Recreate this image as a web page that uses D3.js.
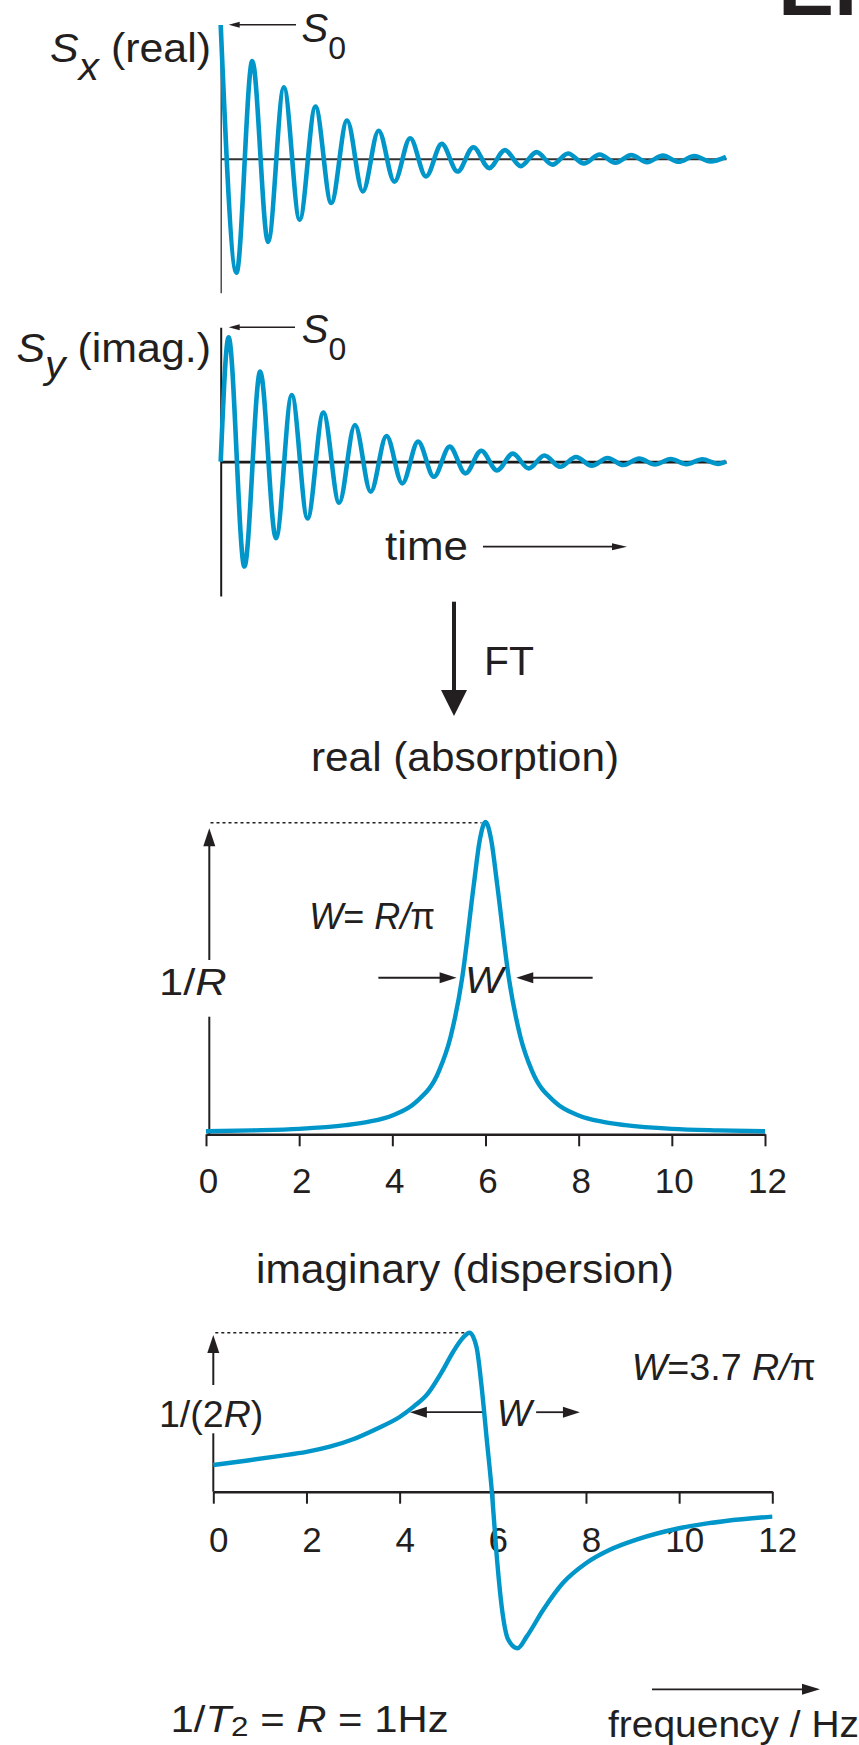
<!DOCTYPE html>
<html lang="en">
<head>
<meta charset="UTF-8">
<title>FID and spectrum</title>
<script src="https://cdn.jsdelivr.net/npm/d3@7/dist/d3.min.js"></script>
<style>
body{margin:0;background:#fff;}
svg{display:block;font-family:"Liberation Sans",Arial,Helvetica,sans-serif;}
</style>
</head>
<body>
<script>
// FID, time in periods of the signal, amplitude with S0 = 100
var sxTime = [0,0.5,1,1.5,2,2.5,3,3.5,4,4.5,5,5.5,6,6.5,7,7.5,8,8.5,9,9.5,10,10.5,11,11.5,12,12.5,13,13.5,14,14.5,15,15.5,16];
var sxVals = [100,-85,73,-62,53.5,-45.5,39,-33,28.6,-24.4,21,-17,15.4,-13.2,11.2,-9.5,8.7,-6.9,6.5,-5.4,5.0,-4.3,4.0,-3.5,3.3,-2.9,2.8,-2.5,2.4,-2.2,2.1,-2.0,1.5];
var syTime = [0,0.25,0.75,1.25,1.75,2.25,2.75,3.25,3.75,4.25,4.75,5.25,5.75,6.25,6.75,7.25,7.75,8.25,8.75,9.25,9.75,10.25,10.75,11.25,11.75,12.25,12.75,13.25,13.75,14.25,14.75,15.25,15.75,16];
var syVals = [0,92.5,-78,67,-57,49.6,-42.2,36.5,-30.5,27.3,-22.3,19.1,-16.1,14.9,-11.2,11.2,-8.7,8.2,-6.5,6.0,-5.0,4.6,-3.8,3.5,-3.0,2.8,-2.5,2.3,-2.1,2.0,-1.8,1.8,-1.6,0];

// spectra, frequency in Hz, peak height = 1
var absFreq = [0,1,2,3,3.5,4,4.5,5,5.25,5.5,5.75,5.875,6,6.125,6.25,6.5,6.75,7,7.5,8,8.5,9,10,11,12];
var absVals = [0.007,0.01,0.015,0.027,0.038,0.058,0.1,0.2,0.31,0.5,0.8,0.94,1,0.94,0.8,0.5,0.31,0.2,0.1,0.058,0.038,0.027,0.015,0.01,0.007];
var dispFreq = [0,0.7,1.4,2,2.5,3,3.5,4,4.3,4.6,4.9,5.15,5.35,5.5,5.65,5.76,5.87,5.98,6.08,6.19,6.33,6.53,6.73,7.08,7.5,8,8.5,9.1,10,11,12];
var dispVals = [0.168,0.195,0.224,0.25,0.283,0.33,0.395,0.47,0.535,0.615,0.75,0.88,0.965,1,0.91,0.66,0.33,0,-0.39,-0.72,-0.93,-0.985,-0.91,-0.744,-0.576,-0.45,-0.367,-0.3,-0.23,-0.184,-0.157];
var freqTicks = [0,2,4,6,8,10,12];

var width = 859, height = 1745;
var blue = "#0096c9", ink = "#231f20";
var svg = d3.select("body").append("svg").attr("width",width).attr("height",height);

// text with italic / subscript parts, stretched to the width seen in the figure
function label(parts, x, y, size, w, anchor){
	var t = svg.append("text").attr("x",x).attr("y",y).attr("font-size",size)
		.attr("fill",ink).attr("text-anchor",anchor||"start");
	var shift = 0;
	parts.forEach(function(p){
		var s = t.append("tspan").text(p.t);
		if(p.i) s.attr("font-style","italic");
		if(p.fs) s.attr("font-size",p.fs);
		var want = p.sub||0;
		if(want!=shift){ s.attr("dy",want-shift); shift = want; }
		if(p.b) s.attr("font-weight","bold");
	});
	if(w) t.attr("textLength",w).attr("lengthAdjust","spacingAndGlyphs");
	return t;
}
function arrow(x1,y1,x2,y2,len,half,sw){
	var dx=x2-x1, dy=y2-y1, L=Math.sqrt(dx*dx+dy*dy), ux=dx/L, uy=dy/L;
	var bx=x2-ux*len, by=y2-uy*len;
	svg.append("line").attr("x1",x1).attr("y1",y1).attr("x2",bx+ux*1).attr("y2",by+uy*1)
		.attr("stroke",ink).attr("stroke-width",sw||1.6);
	svg.append("path").attr("fill",ink)
		.attr("d","M"+x2+","+y2+"L"+(bx-uy*half)+","+(by+ux*half)+"L"+(bx+uy*half)+","+(by-ux*half)+"Z");
}
function bare(g){ g.selectAll(".tick").remove(); g.attr("font-family",null); return g; }

// ---- panel 1: Sx (real)
var xT1 = d3.scaleLinear().domain([0,16]).range([220.7,726]);
var yS1 = d3.scaleLinear().domain([-100,100]).range([292.7,25]);
bare(svg.append("g").attr("transform","translate(0,"+yS1(0)+")")
	.call(d3.axisBottom(xT1).tickValues([]).tickSizeOuter(0)))
	.select(".domain").attr("stroke","#333").attr("stroke-width",2);
bare(svg.append("g").attr("transform","translate("+xT1(0)+",0)")
	.call(d3.axisLeft(yS1).tickValues([]).tickSizeOuter(0)))
	.select(".domain").attr("stroke","#333").attr("stroke-width",1.3);
svg.append("path").datum(d3.zip(sxTime,sxVals)).attr("fill","none").attr("stroke",blue)
	.attr("stroke-width",4.6).attr("stroke-linejoin","round")
	.attr("d",d3.line().x(function(d){return xT1(d[0]);}).y(function(d){return yS1(d[1]);}).curve(d3.curveMonotoneX));
arrow(296,yS1(100)-0.3,xT1(0)+8,yS1(100)-0.3,11,3,1.6);
label([{t:"S",i:true},{t:"0",fs:32,sub:17}],301.5,42,40,44.5);
label([{t:"S",i:true},{t:"x",i:true,fs:38,sub:18},{t:" (real)",sub:0}],50,62,40,161);

// ---- panel 2: Sy (imag.)
var yS2 = d3.scaleLinear().domain([-100,100]).range([596.1,327.3]);
bare(svg.append("g").attr("transform","translate(0,"+yS2(0)+")")
	.call(d3.axisBottom(xT1).tickValues([]).tickSizeOuter(0)))
	.select(".domain").attr("stroke","#1a1a1a").attr("stroke-width",2.8);
bare(svg.append("g").attr("transform","translate("+xT1(0)+",0)")
	.call(d3.axisLeft(yS2).tickValues([]).tickSizeOuter(0)))
	.select(".domain").attr("stroke","#1a1a1a").attr("stroke-width",2);
svg.append("path").datum(d3.zip(syTime,syVals)).attr("fill","none").attr("stroke",blue)
	.attr("stroke-width",4.6).attr("stroke-linejoin","round")
	.attr("d",d3.line().x(function(d){return xT1(d[0]);}).y(function(d){return yS2(d[1]);}).curve(d3.curveMonotoneX));
arrow(295,yS2(100),xT1(0)+8,yS2(100),11,3,1.6);
label([{t:"S",i:true},{t:"0",fs:32,sub:17}],301.7,343.3,40,44.5);
label([{t:"S",i:true},{t:"y",i:true,fs:38,sub:16},{t:" (imag.)",sub:0}],16.5,362,40,194.5);
label([{t:"time"}],385,560,40,83);
arrow(483,546.7,627,546.7,15,3.5,1.8);

// ---- FT arrow
arrow(454,601.7,454,716,26,13,4);
label([{t:"FT"}],484,675,41,50);
label([{t:"real (absorption)"}],311,771,40,308);

// ---- panel 3: absorption
var xF3 = d3.scaleLinear().domain([0,12]).range([206,765]);
var yA3 = d3.scaleLinear().domain([0,1]).range([1133.5,822]);
var ax3 = svg.append("g").attr("transform","translate(0,1134.3)")
	.call(d3.axisBottom(xF3).tickValues(freqTicks).tickSize(12).tickSizeOuter(0));
ax3.attr("font-family",null);
ax3.select(".domain").attr("stroke",ink).attr("stroke-width",2.6);
ax3.selectAll(".tick line").attr("stroke",ink).attr("stroke-width",2);
ax3.selectAll(".tick text").attr("fill",ink).attr("font-size",35).attr("y",58.7).attr("dy",0).attr("dx",2);
svg.append("line").attr("x1",xF3(0)+4.5).attr("x2",xF3(6)-4).attr("y1",yA3(1)+0.7).attr("y2",yA3(1)+0.7)
	.attr("stroke",ink).attr("stroke-width",1.6).attr("stroke-dasharray","3,3");
arrow(xF3(0)+3.3,960,xF3(0)+3.3,828.3,18,6,2);
svg.append("line").attr("x1",xF3(0)+3.3).attr("x2",xF3(0)+3.3).attr("y1",1016.7).attr("y2",1134)
	.attr("stroke",ink).attr("stroke-width",2);
svg.append("path").datum(d3.zip(absFreq,absVals)).attr("fill","none").attr("stroke",blue)
	.attr("stroke-width",4.4)
	.attr("d",d3.line().x(function(d){return xF3(d[0]);}).y(function(d){return yA3(d[1]);}).curve(d3.curveMonotoneX));
label([{t:"W",i:true},{t:"= "},{t:"R/",i:true},{t:"π"}],309.3,929.3,36,125.7);
label([{t:"1/"},{t:"R",i:true}],159,995,36,67.7);
label([{t:"W",i:true}],465,993.3,37,38.3);
arrow(xF3(3.7),yA3(0.5),xF3(5.38),yA3(0.5),17,5.5,1.8);
arrow(xF3(8.3),yA3(0.5),xF3(6.66),yA3(0.5),17,5.5,1.8);

// ---- panel 4: dispersion
label([{t:"imaginary (dispersion)"}],256,1282.7,40,418);
var xF4 = d3.scaleLinear().domain([0,12]).range([213.3,772.3]);
var yD4 = d3.scaleLinear().domain([-1,1]).range([1650.7,1332.7]);
var ax4 = svg.append("g").attr("transform","translate(0,"+yD4(0)+")")
	.call(d3.axisBottom(xF4).tickValues(freqTicks).tickSize(12).tickSizeOuter(0));
ax4.attr("font-family",null);
ax4.select(".domain").attr("stroke",ink).attr("stroke-width",2.6);
ax4.selectAll(".tick line").attr("stroke",ink).attr("stroke-width",2);
ax4.selectAll(".tick text").attr("fill",ink).attr("font-size",35).attr("y",60).attr("dy",0).attr("dx",5);
svg.append("line").attr("x1",xF4(0)+2).attr("x2",xF4(5.45)).attr("y1",yD4(1)).attr("y2",yD4(1))
	.attr("stroke",ink).attr("stroke-width",1.6).attr("stroke-dasharray","3,3");
arrow(xF4(0),1385,xF4(0),1335,18,6,2);
svg.append("line").attr("x1",xF4(0)).attr("x2",xF4(0)).attr("y1",1433.3).attr("y2",yD4(0))
	.attr("stroke",ink).attr("stroke-width",2);
svg.append("path").datum(d3.zip(dispFreq,dispVals)).attr("fill","none").attr("stroke",blue)
	.attr("stroke-width",4.4)
	.attr("d",d3.line().x(function(d){return xF4(d[0]);}).y(function(d){return yD4(d[1]);}).curve(d3.curveMonotoneX));
label([{t:"W",i:true},{t:"=3.7 "},{t:"R/",i:true},{t:"π"}],631.7,1380,37,184);
label([{t:"1/(2"},{t:"R",i:true},{t:")"}],159,1427.3,36,104.3);
label([{t:"W",i:true}],496.7,1426,36,35);
arrow(xF4(5.77),yD4(0.5),xF4(4.22),yD4(0.5),17,5.5,1.8);
arrow(xF4(6.93),yD4(0.5),xF4(7.87),yD4(0.5),17,5.5,1.8);

// ---- footer
label([{t:"1/"},{t:"T",i:true},{t:"2",fs:27,sub:4},{t:" = ",sub:0},{t:"R",i:true},{t:" = 1Hz"}],170.6,1731.7,36,278);
arrow(652,1689.3,820,1689.3,18,5.5,1.8);
label([{t:"frequency / Hz"}],608,1737,36,251);
// clipped heading letters at the top right
label([{t:"EI",b:true}],778,15,84);
</script>
</body>
</html>
